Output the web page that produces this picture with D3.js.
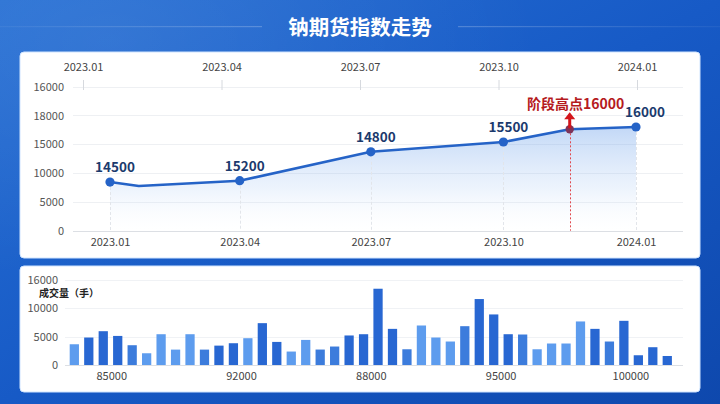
<!DOCTYPE html>
<html><head><meta charset="utf-8">
<script src="https://cdn.jsdelivr.net/npm/d3@7"></script>
<style>
html,body{margin:0;padding:0;width:720px;height:404px;overflow:hidden;background:#1656bd;}
svg{display:block;font-family:"Noto Sans CJK SC","Noto Sans",sans-serif;}
</style>
</head><body>
<svg id="c" width="720" height="404"></svg>
<script>
// ---------- data ----------
const chartTitle = "钠期货指数走势";
const priceDates = ["2023-01-01","2023-01-21","2023-04-01","2023-07-01","2023-10-01","2023-11-16","2024-01-01"];
const priceValues = [8450, 7760, 8680, 13700, 15400, 17600, 18000];
const priceLabels = ["14500", "", "15200", "14800", "15500", "", "16000"];
const priceYTickValues = [0, 5000, 10000, 15000, 20000, 25000];
const priceYTickLabels = ["0", "5000", "10000", "15000", "18000", "16000"];
const quarterTicks = ["2023-01-01","2023-04-01","2023-07-01","2023-10-01","2024-01-01"];
const topAxisLabels = ["2023.01","2023.04","2023.07","2023.10","2024.01"];
const peakDate = "2023-11-16";
const peakText = "阶段高点16000";

const volumeTitle = "成交量（手）";
const volumeValues = [3640,4820,5930,5100,3470,2060,5400,2700,5400,2700,
                      3400,3820,4700,7340,4050,2360,4400,2710,3240,5180,
                      5400,13380,6340,2760,6930,4820,4120,6810,11570,8870,
                      5400,5350,2760,3770,3770,7640,6340,4120,7750,1710,
                      3120,1580];
// 2 = strong, 1 = medium, 0 = weak session
const volumeStrength = [0,2,2,2,1,0,0,0,0,1,
                        2,2,0,2,2,0,0,1,1,2,
                        2,2,2,1,0,0,0,1,2,2,
                        2,1,0,0,0,0,2,1,2,2,
                        2,2];
const volumeYTickValues = [0, 5000, 10000, 15000];
const volumeYTickLabels = ["0", "5000", "10000", "16000"];
const volumeXLabels = ["85000","92000","88000","95000","100000"];

// ---------- drawing ----------
const svg = d3.select("#c");
const defs = svg.append("defs");
const parse = d3.timeParse("%Y-%m-%d");

const bg = defs.append("linearGradient").attr("id","bg").attr("x1","0").attr("y1","0").attr("x2","1").attr("y2","1");
bg.append("stop").attr("offset","0").attr("stop-color","#2770d4");
bg.append("stop").attr("offset","0.5").attr("stop-color","#175ac6");
bg.append("stop").attr("offset","1").attr("stop-color","#0e48ad");
svg.append("rect").attr("width",720).attr("height",404).attr("fill","url(#bg)");

const glow = defs.append("radialGradient").attr("id","glow").attr("cx","0.15").attr("cy","0.1").attr("r","0.6");
glow.append("stop").attr("offset","0").attr("stop-color","#ffffff").attr("stop-opacity",0.08);
glow.append("stop").attr("offset","1").attr("stop-color","#ffffff").attr("stop-opacity",0);
svg.append("rect").attr("width",720).attr("height",404).attr("fill","url(#glow)");

// title lines
const tl = defs.append("linearGradient").attr("id","tl");
tl.append("stop").attr("offset","0").attr("stop-color","#ffffff").attr("stop-opacity",0.05);
tl.append("stop").attr("offset","1").attr("stop-color","#ffffff").attr("stop-opacity",0.22);
const tr = defs.append("linearGradient").attr("id","tr");
tr.append("stop").attr("offset","0").attr("stop-color","#ffffff").attr("stop-opacity",0.22);
tr.append("stop").attr("offset","1").attr("stop-color","#ffffff").attr("stop-opacity",0.05);
svg.append("rect").attr("x",0).attr("y",26).attr("width",262).attr("height",1.2).attr("fill","url(#tl)");
svg.append("rect").attr("x",458).attr("y",26).attr("width",262).attr("height",1.2).attr("fill","url(#tr)");

svg.append("text").attr("x",360).attr("y",26).attr("text-anchor","middle").attr("dominant-baseline","central")
  .attr("fill","#ffffff").attr("font-size",20.5).attr("font-weight",700).text(chartTitle);

// cards
svg.append("rect").attr("x",20).attr("y",52).attr("width",680).attr("height",206).attr("rx",4)
  .attr("fill","#ffffff").attr("stroke","#cfe4ff").attr("stroke-width",1);
svg.append("rect").attr("x",20).attr("y",266).attr("width",680).attr("height",126).attr("rx",4)
  .attr("fill","#ffffff").attr("stroke","#cfe4ff").attr("stroke-width",1);

// ===== price chart =====
const px0 = 73, px1 = 683;
const x = d3.scaleTime().domain([parse("2023-01-01"), parse("2024-01-01")]).range([110, 636]);
const y = d3.scaleLinear().domain([0, 25000]).range([230.7, 86.7]);
const pts = priceDates.map((d,i)=>({date:parse(d), v:priceValues[i], label:priceLabels[i]}));

const grid = svg.append("g");
grid.selectAll("line").data(priceYTickValues).join("line")
  .attr("x1",px0).attr("x2",px1).attr("y1",d=>Math.round(y(d))+0.5).attr("y2",d=>Math.round(y(d))+0.5)
  .attr("stroke",d=>d===0?"#dcdfe4":"#eef0f3").attr("stroke-width",1);

const yAx = svg.append("g").attr("transform",`translate(${px0-9},0)`)
  .call(d3.axisLeft(y).tickValues(priceYTickValues).tickFormat((d,i)=>priceYTickLabels[i]).tickSize(0).tickPadding(0));
yAx.select(".domain").remove();
yAx.selectAll("text").attr("fill","#555").attr("font-size",11).attr("font-family","Noto Sans CJK SC, sans-serif");

const xAx = svg.append("g").attr("transform",`translate(0,${y(0)})`)
  .call(d3.axisBottom(x).tickValues(quarterTicks.map(parse)).tickFormat(d3.timeFormat("%Y.%m")).tickSize(0).tickPadding(8));
xAx.select(".domain").remove();
xAx.selectAll("text").attr("fill","#444").attr("font-size",11).attr("font-family","Noto Sans CJK SC, sans-serif");

const xt = d3.scalePoint().domain(topAxisLabels).range([83, 637]);
const tAx = svg.append("g").attr("transform","translate(0,90)")
  .call(d3.axisTop(xt).tickSize(10).tickPadding(9.5));
tAx.select(".domain").remove();
tAx.selectAll("line").attr("stroke","#d6d9de");
tAx.selectAll("text").attr("fill","#444").attr("font-size",11).attr("font-family","Noto Sans CJK SC, sans-serif");

// area
const ag = defs.append("linearGradient").attr("id","area").attr("gradientUnits","userSpaceOnUse")
  .attr("x1",0).attr("x2",0).attr("y1",y(18000)).attr("y2",y(0));
ag.append("stop").attr("offset","0").attr("stop-color","#5f98e8").attr("stop-opacity",0.38);
ag.append("stop").attr("offset","0.6").attr("stop-color","#9cc0f2").attr("stop-opacity",0.18);
ag.append("stop").attr("offset","1").attr("stop-color","#ffffff").attr("stop-opacity",0.05);
svg.append("path").datum(pts).attr("fill","url(#area)")
  .attr("d", d3.area().x(d=>x(d.date)).y0(y(0)).y1(d=>y(d.v)));

// guides
svg.append("g").selectAll("line").data(pts.filter(d=>d.label)).join("line")
  .attr("x1",d=>Math.round(x(d.date))+0.5).attr("x2",d=>Math.round(x(d.date))+0.5).attr("y1",d=>y(d.v)).attr("y2",y(0))
  .attr("stroke","#e2e5ea").attr("stroke-width",1).attr("stroke-dasharray","3,2");
const peak = pts.find(d=>+d.date===+parse(peakDate));
const pxl = Math.round(x(peak.date))+0.5;
svg.append("line").attr("x1",pxl).attr("x2",pxl).attr("y1",y(peak.v)).attr("y2",y(0))
  .attr("stroke","#e0474c").attr("stroke-width",1).attr("stroke-dasharray","2,2");

// line
svg.append("path").datum(pts).attr("fill","none").attr("stroke","#2563c7").attr("stroke-width",2.6)
  .attr("stroke-linejoin","round").attr("d", d3.line().x(d=>x(d.date)).y(d=>y(d.v)));
svg.append("g").selectAll("circle").data(pts.filter(d=>d.label)).join("circle")
  .attr("cx",d=>x(d.date)).attr("cy",d=>y(d.v)).attr("r",4.6).attr("fill","#2563c7");

// labels
svg.append("g").selectAll("text").data(pts.filter(d=>d.label)).join("text")
  .attr("x",(d,i,a)=>x(d.date)+(i===a.length-1?9:5)).attr("y",d=>y(d.v)-16)
  .attr("text-anchor","middle").attr("dominant-baseline","central")
  .attr("fill","#1b3a6d").attr("font-size",13.5).attr("font-weight",700).text(d=>d.label);

// peak annotation
const ppx = x(peak.date), ppy = y(peak.v);
svg.append("circle").attr("cx",ppx).attr("cy",ppy).attr("r",4.2).attr("fill","#7e3358");
svg.append("line").attr("x1",ppx).attr("x2",ppx).attr("y1",ppy-1).attr("y2",ppy-11)
  .attr("stroke","#d3151b").attr("stroke-width",3);
svg.append("path").attr("d",`M${ppx-5.5},${ppy-10} L${ppx+5.5},${ppy-10} L${ppx},${ppy-17} Z`).attr("fill","#d3151b");
svg.append("text").attr("x",ppx+6).attr("y",ppy-26.5).attr("text-anchor","middle").attr("dominant-baseline","central")
  .attr("fill","#b51a1e").attr("font-size",14).attr("font-weight",700).text(peakText);

// ===== volume chart =====
const vb = d3.scaleBand().domain(volumeValues.map((d,i)=>i)).range([67.1, 674.5]).paddingInner(0.36).paddingOuter(0.18);
const vy = d3.scaleLinear().domain([0, 15000]).range([365, 279.5]);
const vx = d3.scalePoint().domain(volumeXLabels).range([67.1, 674.5]).padding(0.34);

svg.append("g").selectAll("line").data(volumeYTickValues).join("line")
  .attr("x1",65).attr("x2",683).attr("y1",d=>Math.round(vy(d))+0.5).attr("y2",d=>Math.round(vy(d))+0.5)
  .attr("stroke",d=>d===0?"#dcdfe4":"#f0f2f5").attr("stroke-width",1);

const vyAx = svg.append("g").attr("transform","translate(58,0)")
  .call(d3.axisLeft(vy).tickValues(volumeYTickValues).tickFormat((d,i)=>volumeYTickLabels[i]).tickSize(0).tickPadding(0));
vyAx.select(".domain").remove();
vyAx.selectAll("text").attr("fill","#555").attr("font-size",11).attr("font-family","Noto Sans CJK SC, sans-serif");

svg.append("text").attr("x",39).attr("y",292.5).attr("dominant-baseline","central")
  .attr("fill","#222").attr("font-size",10).attr("font-weight",700).text(volumeTitle);

const tones = ["#5d9cee", "#3c7cdc", "#2867d2"];
svg.append("g").selectAll("rect").data(volumeValues).join("rect")
  .attr("x",(d,i)=>vb(i)).attr("width",vb.bandwidth())
  .attr("y",d=>vy(d)).attr("height",d=>vy(0)-vy(d))
  .attr("fill",(d,i)=>tones[volumeStrength[i]]);

const vxAx = svg.append("g").attr("transform",`translate(0,${vy(0)})`)
  .call(d3.axisBottom(vx).tickSize(0).tickPadding(7.5));
vxAx.select(".domain").remove();
vxAx.selectAll("text").attr("fill","#444").attr("font-size",11).attr("font-family","Noto Sans CJK SC, sans-serif");
</script>
</body></html>
